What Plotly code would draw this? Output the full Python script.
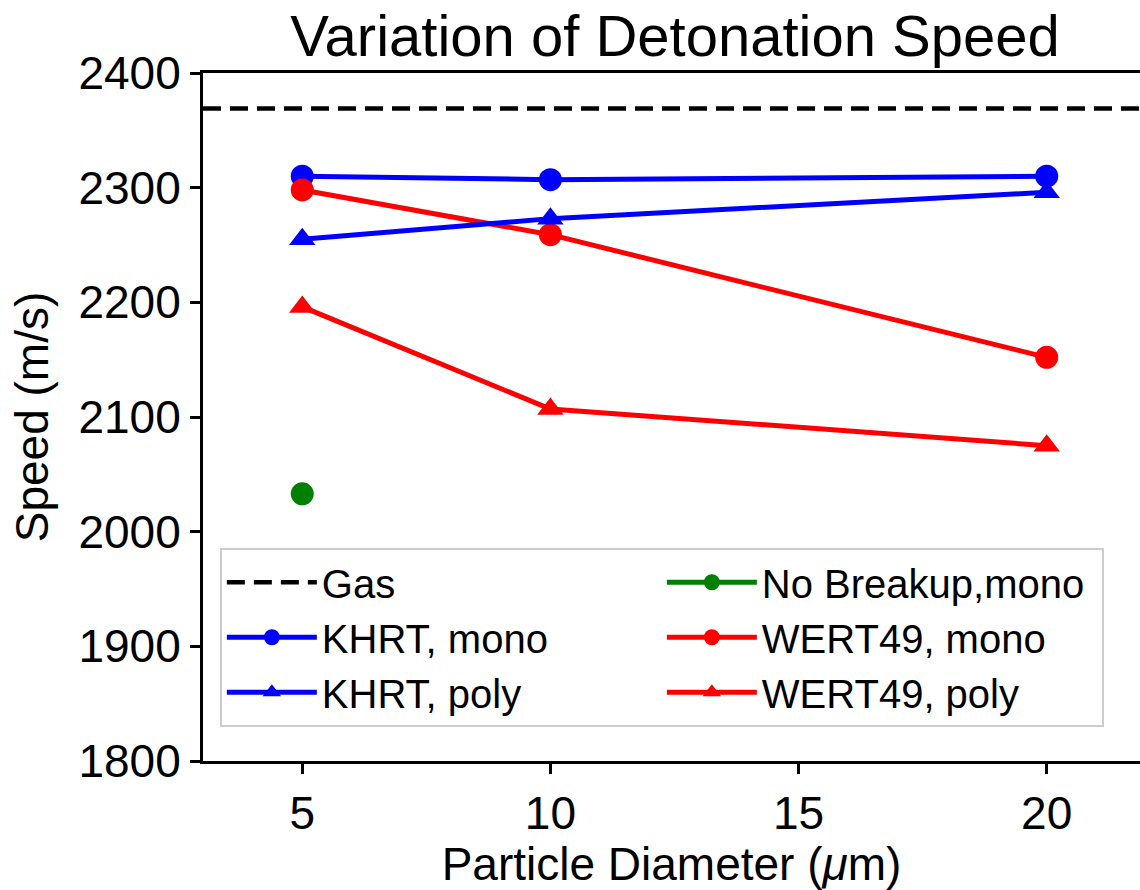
import plotly.graph_objects as go

# Particle diameters (micrometres) and detonation speeds (m/s)
diameters = [5, 10, 20]
gas_speed = 2369
khrt_mono = [2310, 2307, 2310]
khrt_poly = [2255, 2273, 2296]
wert49_mono = [2298, 2259, 2152]
wert49_poly = [2196, 2107, 2075]
no_breakup_diam = [5]
no_breakup_mono = [2033]

x_limits = [3, 21.88]
y_limits = [1800, 2400]
y_ticks = [1800, 1900, 2000, 2100, 2200, 2300, 2400]
x_ticks = [5, 10, 15, 20]

FONT = "Liberation Sans, Arial, sans-serif"
LW = 5
MS = 23

fig = go.Figure()

# Legend order is row-major in Plotly, so interleave to get two columns
fig.add_trace(go.Scatter(
    x=x_limits, y=[gas_speed, gas_speed], mode="lines", name="Gas",
    line=dict(color="black", width=4.5, dash="18px,9px"), legendrank=1))
fig.add_trace(go.Scatter(
    x=no_breakup_diam, y=no_breakup_mono, mode="lines+markers", name="No Breakup,mono",
    line=dict(color="#008000", width=LW), marker=dict(symbol="circle", size=MS, color="#008000"),
    legendrank=2))
fig.add_trace(go.Scatter(
    x=diameters, y=khrt_mono, mode="lines+markers", name="KHRT, mono",
    line=dict(color="#0000ff", width=LW), marker=dict(symbol="circle", size=MS, color="#0000ff"),
    legendrank=3))
fig.add_trace(go.Scatter(
    x=diameters, y=wert49_mono, mode="lines+markers", name="WERT49, mono",
    line=dict(color="#ff0000", width=LW), marker=dict(symbol="circle", size=MS, color="#ff0000"),
    legendrank=4))
fig.add_trace(go.Scatter(
    x=diameters, y=khrt_poly, mode="lines+markers", name="KHRT, poly",
    line=dict(color="#0000ff", width=LW), marker=dict(symbol="triangle-up", size=MS, color="#0000ff"),
    legendrank=5))
fig.add_trace(go.Scatter(
    x=diameters, y=wert49_poly, mode="lines+markers", name="WERT49, poly",
    line=dict(color="#ff0000", width=LW), marker=dict(symbol="triangle-up", size=MS, color="#ff0000"),
    legendrank=6))

fig.update_layout(
    width=1140, height=890,
    margin=dict(l=203, r=0, t=73, b=129),
    paper_bgcolor="white", plot_bgcolor="white",
    font=dict(family=FONT, color="black", size=46),
    title=dict(text="Variation of Detonation Speed", font=dict(size=58),
               x=(203 + 1147) / 2 / 1140, xanchor="center",
               y=1 - 36 / 890, yanchor="middle"),
    xaxis=dict(range=x_limits, tickvals=x_ticks, showgrid=False, zeroline=False,
               showline=True, linecolor="black", linewidth=3, mirror=True,
               ticks="outside", ticklen=10, tickwidth=3, tickcolor="black",
               tickfont=dict(size=46),
               title=dict(text="Particle Diameter (<i>μ</i>m)", font=dict(size=46), standoff=6)),
    yaxis=dict(range=y_limits, tickvals=y_ticks, showgrid=False, zeroline=False,
               showline=True, linecolor="black", linewidth=3, mirror=False,
               ticks="outside", ticklen=10, tickwidth=3, tickcolor="black",
               tickfont=dict(size=46),
               title=dict(text="Speed (m/s)", font=dict(size=46), standoff=16)),
    showlegend=True,
    legend=dict(orientation="h", x=0.018, y=0.31, xanchor="left", yanchor="top",
                bgcolor="white", bordercolor="#cccccc", borderwidth=2,
                font=dict(size=40, family=FONT), entrywidth=335, entrywidthmode="pixels",
                itemwidth=90, itemsizing="trace", traceorder="normal"),
)

fig.write_html("out.html")
